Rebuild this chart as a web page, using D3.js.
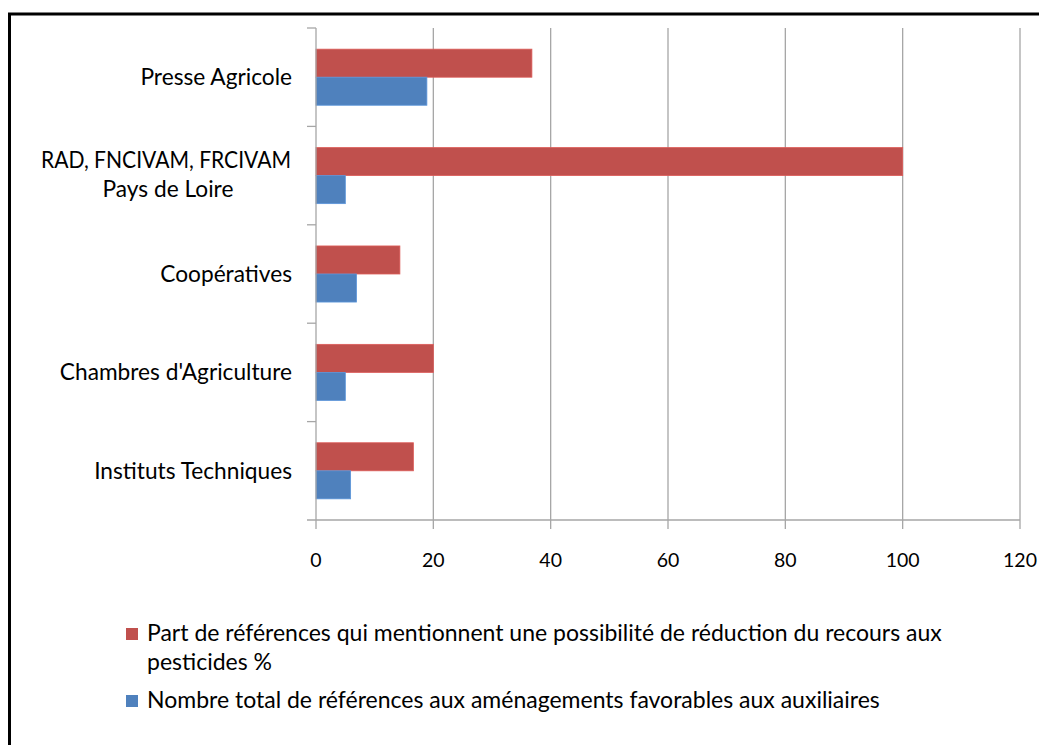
<!DOCTYPE html>
<html><head><meta charset="utf-8">
<script src="https://cdn.jsdelivr.net/npm/d3@7"></script>
<style>body{margin:0;background:#fff;}svg{display:block;font-family:Lato,"Open Sans",sans-serif;}</style>
</head><body>
<svg id="chart" width="1039" height="745"></svg>
<script>
const categories = ["Presse Agricole", "RAD, FNCIVAM, FRCIVAM\nPays de Loire", "Coopératives", "Chambres d'Agriculture", "Instituts Techniques"];
const seriesNames = ["Part de références qui mentionnent une possibilité de réduction du recours aux\npesticides %", "Nombre total de références aux aménagements favorables aux auxiliaires"];
const redValues = [36.8, 100, 14.3, 20, 16.6];
const blueValues = [18.9, 5, 6.9, 5, 5.9];
const xTicks = [0, 20, 40, 60, 80, 100, 120];
const colors = ["#C0504D", "#4F81BD"];

(function () {
const svg = d3.select("#chart");
// frame
svg.append("rect").attr("x", 9.5).attr("y", 14).attr("width", 1040).attr("height", 740)
  .attr("fill", "none").attr("stroke", "#000").attr("stroke-width", 3);

const pLeft = 316, pRight = 1020, pTop = 28, pBottom = 520;
const x = d3.scaleLinear().domain([0, 120]).range([pLeft, pRight]);
const y0 = d3.scaleBand().domain(categories).range([pTop, pBottom]).paddingInner(0.43).paddingOuter(0.215);
const y1 = d3.scaleBand().domain([0, 1]).range([0, y0.bandwidth()]);
const labelSize = 22.7;

// gridlines
svg.append("g").selectAll("line").data(xTicks.slice(1)).join("line")
  .attr("x1", d => x(d)).attr("x2", d => x(d)).attr("y1", pTop).attr("y2", pBottom + 9)
  .attr("stroke", "#a6a6a6").attr("stroke-width", 1.3);

const stepEdges = d3.range(categories.length + 1).map(i => pTop + i * (pBottom - pTop) / categories.length);

// bars
const g = svg.append("g");
categories.forEach((c, i) => {
  [redValues[i], blueValues[i]].forEach((v, j) => {
    g.append("rect")
      .attr("x", x(0)).attr("y", y0(c) + y1(j))
      .attr("width", x(v) - x(0)).attr("height", y1.bandwidth())
      .attr("fill", colors[j]).attr("stroke", d3.color(colors[j]).brighter(0.4)).attr("stroke-width", 0.8);
  });
});

// axes lines
svg.append("line").attr("x1", pLeft).attr("x2", pLeft).attr("y1", pTop).attr("y2", pBottom + 9)
  .attr("stroke", "#a6a6a6").attr("stroke-width", 1.3);
svg.append("line").attr("x1", pLeft - 9).attr("x2", pRight).attr("y1", pBottom).attr("y2", pBottom)
  .attr("stroke", "#a6a6a6").attr("stroke-width", 1.3);
svg.append("g").selectAll("line").data(stepEdges.slice(0, -1)).join("line")
  .attr("x1", pLeft - 9).attr("x2", pLeft).attr("y1", d => d).attr("y2", d => d)
  .attr("stroke", "#a6a6a6").attr("stroke-width", 1.3);

// x tick labels
svg.append("g").selectAll("text").data(xTicks).join("text")
  .attr("x", d => x(d)).attr("y", 567).attr("text-anchor", "middle")
  .attr("font-size", 19.5).attr("fill", "#000").text(d => d);

// category labels
categories.forEach(c => {
  const lines = c.split("\n");
  const cy = y0(c) + y0.bandwidth() / 2;
  if (lines.length === 1) {
    svg.append("text").attr("x", 292).attr("y", cy + 8).attr("text-anchor", "end")
      .attr("font-size", labelSize).text(lines[0]);
  } else {
    const blockW = 250, center = 291 - blockW / 2;
    svg.append("text").attr("x", center).attr("y", cy - 7.5).attr("text-anchor", "middle")
      .attr("font-size", labelSize).attr("textLength", blockW).attr("lengthAdjust", "spacingAndGlyphs").text(lines[0]);
    svg.append("text").attr("x", center + 2).attr("y", cy + 21.5).attr("text-anchor", "middle")
      .attr("font-size", labelSize).text(lines[1]);
  }
});

// legend
const legY = [634, 701];
seriesNames.forEach((s, i) => {
  svg.append("rect").attr("x", 126).attr("y", legY[i] - 6).attr("width", 12).attr("height", 12).attr("fill", colors[i]);
  s.split("\n").forEach((line, k) => {
    svg.append("text").attr("x", 147).attr("y", legY[i] + 6.5 + k * 29).attr("font-size", 23).text(line);
  });
});
})();
</script>
</body></html>
